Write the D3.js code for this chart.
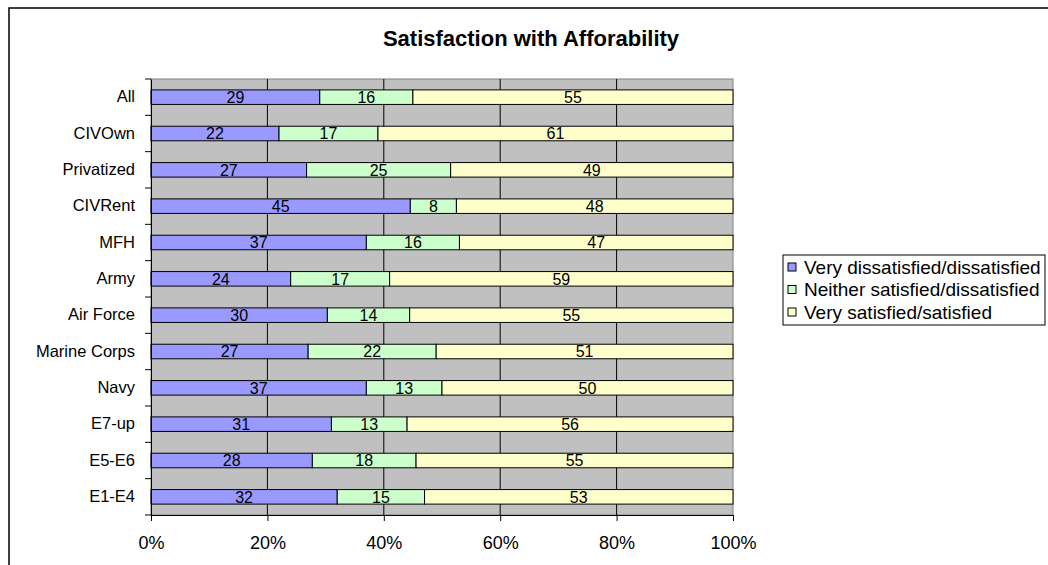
<!DOCTYPE html>
<html lang="en">
<head>
<meta charset="utf-8">
<title>Satisfaction with Afforability</title>
<script src="https://d3js.org/d3.v7.min.js"></script>
<style>
  body { margin: 0; background: #fff; }
  text { font-family: "Liberation Sans", Arial, sans-serif; }
</style>
</head>
<body>
<script type="text/javascript">

// Data
var categories = ["All", "CIVOwn", "Privatized", "CIVRent", "MFH", "Army", "Air Force",
                  "Marine Corps", "Navy", "E7-up", "E5-E6", "E1-E4"];
var dissatisfied = [29, 22, 27, 45, 37, 24, 30, 27, 37, 31, 28, 32];
var neither      = [16, 17, 25,  8, 16, 17, 14, 22, 13, 13, 18, 15];
var satisfied    = [55, 61, 49, 48, 47, 59, 55, 51, 50, 56, 55, 53];
var seriesNames  = ["Very dissatisfied/dissatisfied", "Neither satisfied/dissatisfied", "Very satisfied/satisfied"];
var seriesColors = ["#9999FF", "#CCFFCC", "#FFFFCC"];
var xTicks = [0, 0.2, 0.4, 0.6, 0.8, 1];

var w = 1048, h = 565;
var plot = { left: 151, right: 733, top: 79, bottom: 515 };

var svg = d3.select("body").append("svg")
  .attr("width", w).attr("height", h);

// outer chart border (runs off the right/bottom edges)
svg.append("rect")
  .attr("x", 9).attr("y", 8)
  .attr("width", 1100).attr("height", 600)
  .attr("fill", "#fff").attr("stroke", "#000").attr("stroke-width", 1.5);

// build rows, normalise to 100%
var rows = categories.map(function(c, i) {
  return { cat: c, v: [dissatisfied[i], neither[i], satisfied[i]] };
});

var x = d3.scaleLinear().domain([0, 1]).range([plot.left, plot.right]);
var y = d3.scaleBand().domain(categories).range([plot.top, plot.bottom])
  .paddingInner(0.6).paddingOuter(0.3);

// plot background
svg.append("rect")
  .attr("x", plot.left).attr("y", plot.top)
  .attr("width", plot.right - plot.left).attr("height", plot.bottom - plot.top)
  .attr("fill", "#C0C0C0").attr("stroke", "#808080").attr("stroke-width", 1);

// vertical gridlines
svg.selectAll("line.grid")
  .data(xTicks.slice(1, -1))
  .enter().append("line")
  .attr("class", "grid")
  .attr("x1", function(d) { return x(d); }).attr("x2", function(d) { return x(d); })
  .attr("y1", plot.top).attr("y2", plot.bottom)
  .attr("stroke", "#000").attr("stroke-width", 1);

// segments
var segs = [];
rows.forEach(function(r) {
  var total = d3.sum(r.v), acc = 0;
  r.v.forEach(function(val, j) {
    segs.push({ cat: r.cat, j: j, val: val, x0: acc / total, x1: (acc + val) / total });
    acc += val;
  });
});

svg.selectAll("rect.seg")
  .data(segs)
  .enter().append("rect")
  .attr("class", "seg")
  .attr("x", function(d) { return x(d.x0); })
  .attr("y", function(d) { return y(d.cat); })
  .attr("width", function(d) { return x(d.x1) - x(d.x0); })
  .attr("height", y.bandwidth())
  .attr("fill", function(d) { return seriesColors[d.j]; })
  .attr("stroke", "#000").attr("stroke-width", 1);

svg.selectAll("text.val")
  .data(segs)
  .enter().append("text")
  .attr("class", "val")
  .attr("x", function(d) { return (x(d.x0) + x(d.x1)) / 2; })
  .attr("y", function(d) { return y(d.cat) + y.bandwidth() / 2; })
  .attr("dy", "0.36em")
  .attr("text-anchor", "middle")
  .attr("font-size", "16px")
  .attr("fill", "#000")
  .text(function(d) { return d.val; });

// left axis
var yAxis = svg.append("g")
  .attr("transform", "translate(" + plot.left + ",0)")
  .call(d3.axisLeft(y).tickSize(0).tickPadding(16));
yAxis.select(".domain").attr("stroke", "#000");
yAxis.selectAll("text").attr("font-size", "16.5px").attr("fill", "#000");

// category boundary ticks
var bounds = categories.map(function(c) { return y(c) - y.step() * y.paddingInner() / 2; });
bounds.push(plot.bottom);
svg.selectAll("line.ytick")
  .data(bounds)
  .enter().append("line")
  .attr("class", "ytick")
  .attr("x1", plot.left - 6).attr("x2", plot.left)
  .attr("y1", function(d) { return d; }).attr("y2", function(d) { return d; })
  .attr("stroke", "#000");

// bottom axis
var xAxis = svg.append("g")
  .attr("transform", "translate(0," + plot.bottom + ")")
  .call(d3.axisBottom(x).tickValues(xTicks).tickFormat(d3.format(".0%"))
    .tickSize(6).tickPadding(15));
xAxis.select(".domain").attr("stroke", "#000");
xAxis.selectAll("line").attr("stroke", "#000");
xAxis.selectAll("text").attr("font-size", "18px").attr("fill", "#000");

// title
svg.append("text")
  .attr("x", 531).attr("y", 38)
  .attr("dy", "0.36em")
  .attr("text-anchor", "middle")
  .attr("font-size", "22px").attr("font-weight", "bold")
  .text("Satisfaction with Afforability");

// legend
var lg = svg.append("g").attr("transform", "translate(783,255)");
lg.append("rect")
  .attr("width", 262).attr("height", 70)
  .attr("fill", "#fff").attr("stroke", "#000").attr("stroke-width", 1);
var items = lg.selectAll("g.item")
  .data(seriesNames)
  .enter().append("g")
  .attr("class", "item")
  .attr("transform", function(d, i) { return "translate(0," + (12 + i * 22.5) + ")"; });
items.append("rect")
  .attr("x", 5).attr("y", -4)
  .attr("width", 8).attr("height", 8)
  .attr("fill", function(d, i) { return seriesColors[i]; })
  .attr("stroke", "#000");
items.append("text")
  .attr("x", 21).attr("dy", "0.36em")
  .attr("font-size", "19px")
  .text(function(d) { return d; });

</script>
</body>
</html>
